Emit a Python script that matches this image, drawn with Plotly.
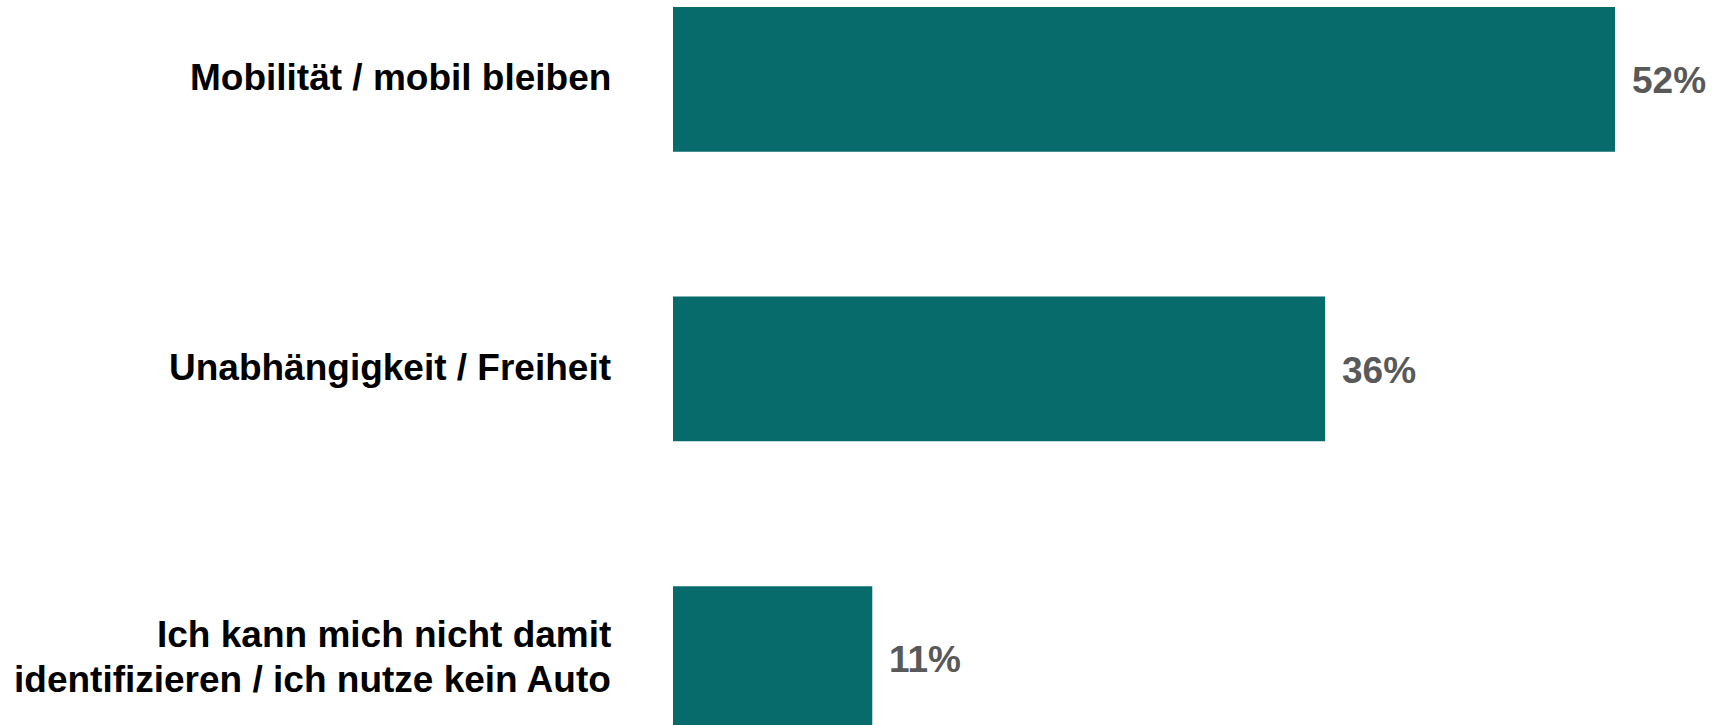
import plotly.graph_objects as go

categories = [
    "Mobilität / mobil bleiben",
    "Unabhängigkeit / Freiheit",
    "Ich kann mich nicht damit<br>identifizieren / ich nutze kein Auto",
]
values = [52, 36, 11]
value_labels = ["52%", "36%", "11%"]
label_fonts = ["Liberation Sans, Arial, sans-serif",
               "Liberation Sans, Arial, sans-serif",
               "Liberation Sans Narrow, Arial Narrow, Liberation Sans, sans-serif"]

BAR_COLOR = "#076A6B"
W, H = 1721, 725
L = 673
LINE_GAP = 45

fig = go.Figure(
    go.Bar(
        x=values,
        y=categories,
        orientation="h",
        width=0.5,
        marker=dict(color=BAR_COLOR, line=dict(width=0)),
        hoverinfo="skip",
    )
)

for cat, v, lab in zip(categories, values, value_labels):
    fig.add_annotation(
        x=v, y=cat, xref="x", yref="y", text=lab, showarrow=False,
        xanchor="left", yanchor="middle", xshift=15, yshift=-1,
        font=dict(family="Liberation Sans, Arial, sans-serif", size=37, color="#595959", weight="bold"),
    )

for cat, fam in zip(categories, label_fonts):
    lines = cat.split("<br>")
    n = len(lines)
    for i, line in enumerate(lines):
        fig.add_annotation(
            x=(613 - L) / (W - L), y=cat, xref="paper", yref="y", text=line, showarrow=False,
            xanchor="right", yanchor="middle", align="right",
            yshift=((n - 1) / 2 - i) * LINE_GAP + 2,
            font=dict(family=fam, size=37, color="#000000", weight="bold"),
        )

fig.update_layout(
    width=W, height=H, autosize=False,
    margin=dict(l=L, r=0, t=0, b=0, pad=0),
    paper_bgcolor="white", plot_bgcolor="white",
    showlegend=False,
    xaxis=dict(range=[0, (W - L) / (942 / 52)], visible=False, fixedrange=True),
    yaxis=dict(range=[2.2297, -0.2746], visible=False, fixedrange=True, type="category"),
)

fig.write_html(
    "out.html",
    config={"displayModeBar": False},
    post_script="document.body.style.margin='0';document.body.style.overflow='hidden';",
)
